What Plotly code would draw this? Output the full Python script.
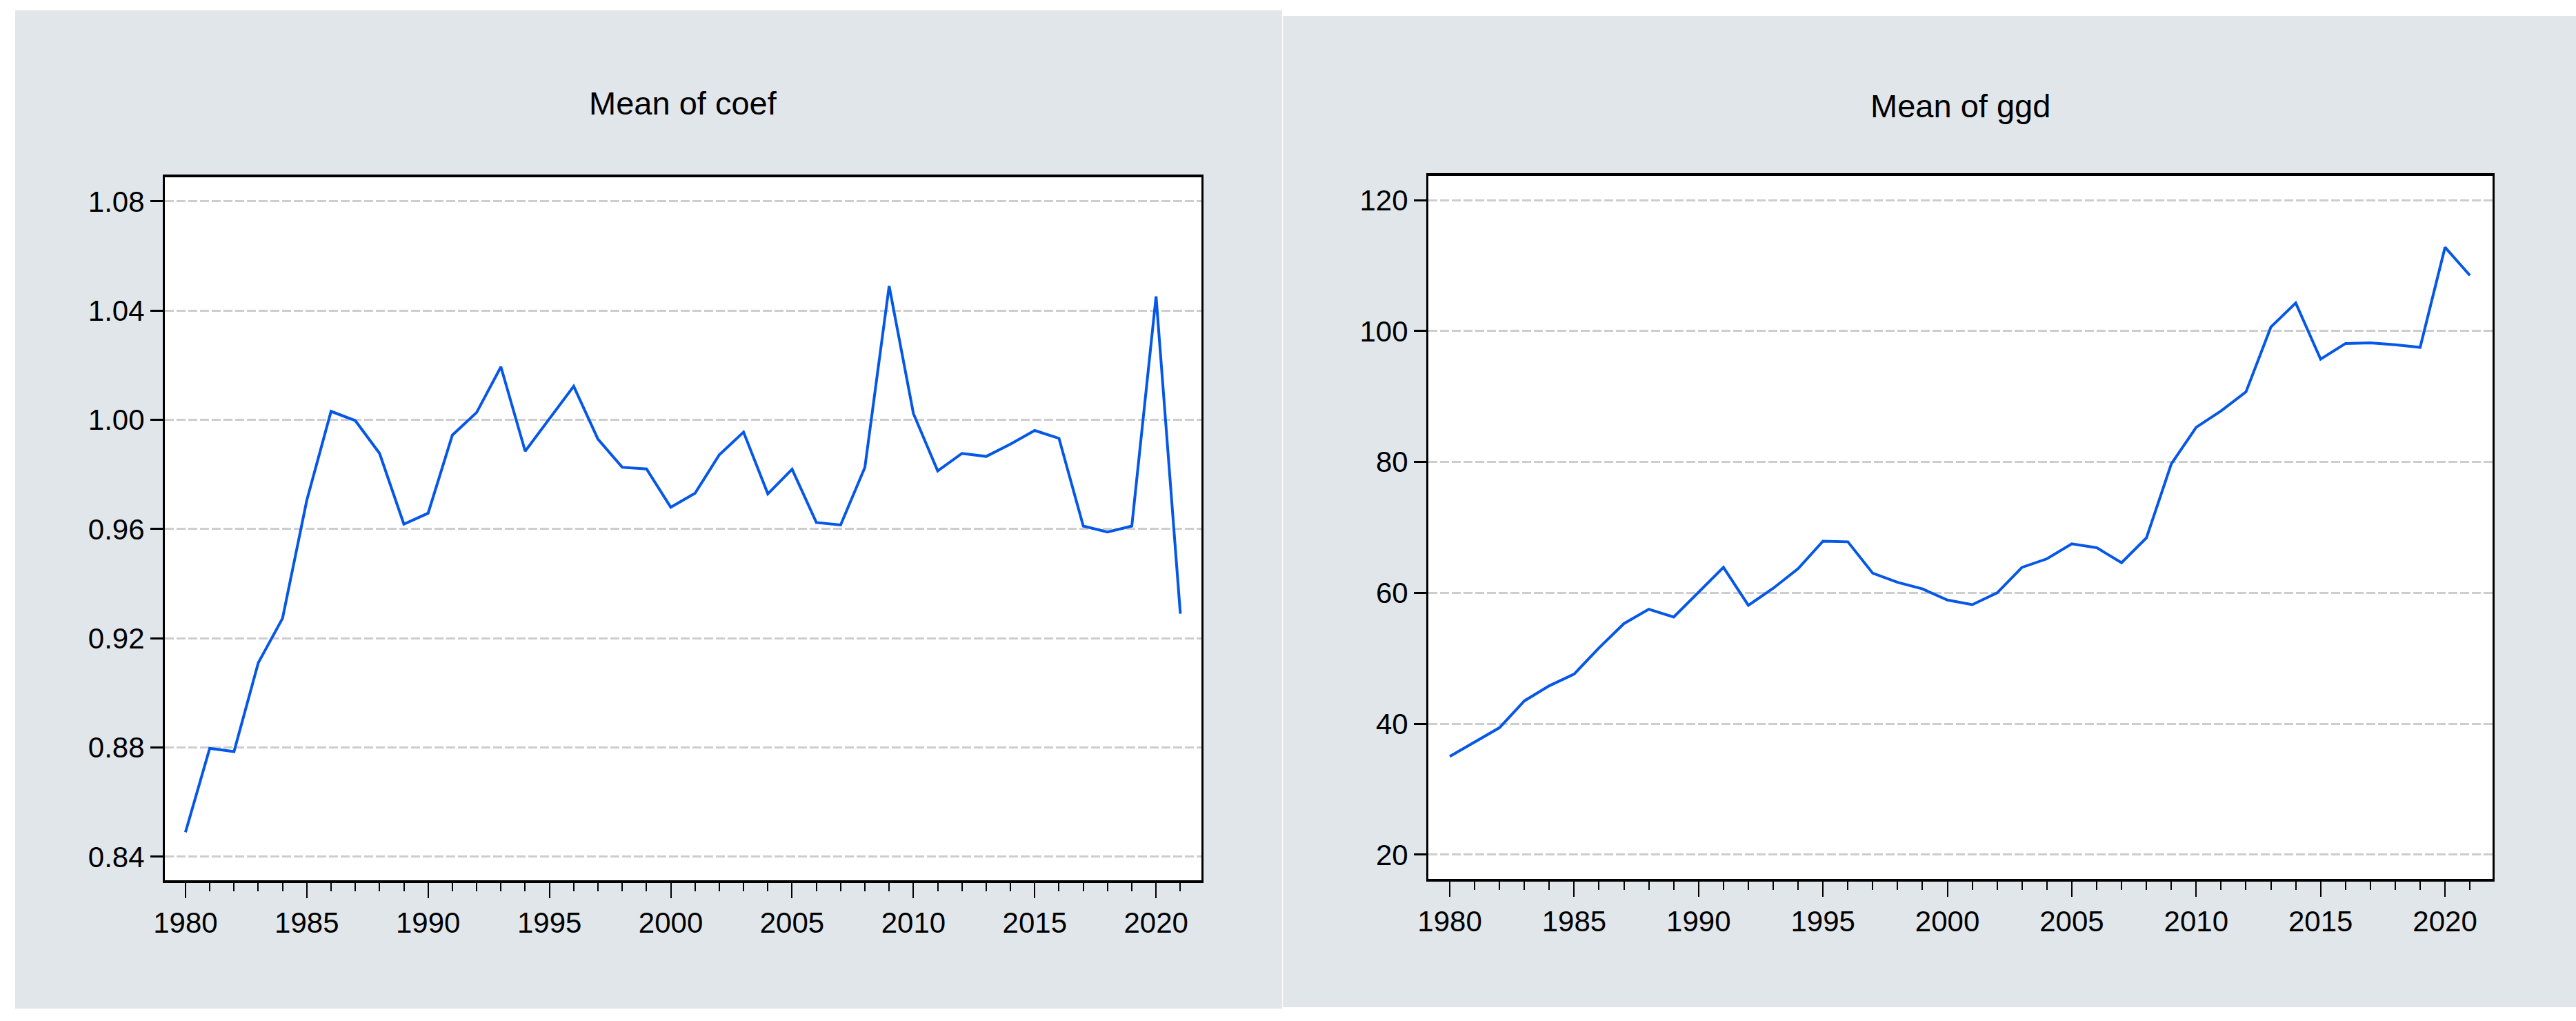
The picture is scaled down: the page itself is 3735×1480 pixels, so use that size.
import plotly.graph_objects as go

W, H = 3735, 1480

years = list(range(1980, 2022))

coef = [0.849, 0.8797, 0.8785, 0.911, 0.9273, 0.9705, 1.0031, 0.9997, 0.9877, 0.9618,
        0.9658, 0.9944, 1.0027, 1.0194, 0.9885, 1.0006, 1.0123, 0.9929, 0.9826, 0.982,
        0.968, 0.9731, 0.9872, 0.9955, 0.9729, 0.9819, 0.9624, 0.9615, 0.9826, 1.049,
        1.0023, 0.9813, 0.9877, 0.9866, 0.9911, 0.9961, 0.9932, 0.9611, 0.9589, 0.9611,
        1.0452, 0.929]

ggd = [35.0, 37.2, 39.4, 43.5, 45.8, 47.6, 51.6, 55.3, 57.5, 56.3,
       60.1, 63.9, 58.1, 60.7, 63.7, 67.9, 67.8, 63.0, 61.6, 60.6,
       58.9, 58.2, 60.0, 63.9, 65.2, 67.5, 66.9, 64.6, 68.4, 79.7,
       85.3, 87.8, 90.7, 100.6, 104.3, 95.7, 98.1, 98.2, 97.9, 97.5,
       112.8, 108.5]

titles = ["Mean of coef", "Mean of ggd"]
coef_ticks = [0.84, 0.88, 0.92, 0.96, 1.00, 1.04, 1.08]
ggd_ticks = [20, 40, 60, 80, 100, 120]
x_ticks = [1980, 1985, 1990, 1995, 2000, 2005, 2010, 2015, 2020]

LINE = "#0557e8"
PANEL = "#e1e6ea"
FONT = "Liberation Sans, Arial, sans-serif"


def px_x(p):
    return p / W


def px_y(p):
    return 1 - p / H


fig = go.Figure()
fig.add_trace(go.Scatter(x=years, y=coef, mode="lines", line=dict(color=LINE, width=4),
                         xaxis="x", yaxis="y", showlegend=False, hoverinfo="skip"))
fig.add_trace(go.Scatter(x=years, y=ggd, mode="lines", line=dict(color=LINE, width=4),
                         xaxis="x2", yaxis="y2", showlegend=False, hoverinfo="skip"))


def xaxis_style(domain, rng, anchor):
    return dict(domain=domain, range=rng, anchor=anchor, automargin=False,
                tickmode="array", tickvals=x_ticks, ticktext=[str(v) for v in x_ticks],
                ticks="outside", ticklen=22, tickwidth=2, tickcolor="black",
                minor=dict(ticks="outside", ticklen=12, tickwidth=2, tickcolor="black",
                           dtick=1, tick0=1980, showgrid=False),
                showline=True, linecolor="black", linewidth=4, mirror=True,
                showgrid=False, zeroline=False,
                tickfont=dict(family=FONT, size=42, color="black"))


def yaxis_style(domain, rng, anchor, vals, fmt):
    return dict(domain=domain, range=rng, anchor=anchor, automargin=False,
                tickmode="array", tickvals=vals, tickformat=fmt,
                ticks="outside", ticklen=18, tickwidth=3, tickcolor="black",
                showline=True, linecolor="black", linewidth=3, mirror=True,
                showgrid=True, gridcolor="#cdcdcd", gridwidth=2.5, griddash="13px,4px",
                zeroline=False,
                tickfont=dict(family=FONT, size=42, color="black"))


def white(x0, x1, y0, y1):
    return dict(type="rect", xref="paper", yref="paper", layer="below",
                x0=px_x(x0), x1=px_x(x1), y0=px_y(y1), y1=px_y(y0),
                fillcolor="white", line=dict(width=0))


fig.update_layout(
    template="none",
    width=W, height=H,
    margin=dict(l=0, r=0, t=0, b=0, pad=0, autoexpand=False),
    paper_bgcolor=PANEL, plot_bgcolor="white",
    font=dict(family=FONT, color="black"),
    showlegend=False,
    xaxis=xaxis_style([px_x(239), px_x(1742)], [1979.15, 2021.87], "y"),
    yaxis=yaxis_style([px_y(1276), px_y(257)], [0.8314, 1.0888], "x", coef_ticks, ".2f"),
    xaxis2=xaxis_style([px_x(2071), px_x(3614)], [1979.14, 2021.91], "y2"),
    yaxis2=yaxis_style([px_y(1274), px_y(255)], [16.3, 123.7], "x2", ggd_ticks, "d"),
    shapes=[
        white(0, 22, 0, H),            # left strip
        white(0, 1860, 0, 15),         # top of left panel
        white(1859, W, 0, 23),         # top of right panel
        white(0, 1860, 1462, H),       # bottom of left panel
        white(1859, W, 1460, H),       # bottom of right panel
        white(1859, 1860, 0, H),       # separator
    ],
    annotations=[
        dict(text=titles[0], xref="paper", yref="paper", x=px_x(990.5), y=px_y(150),
             xanchor="center", yanchor="middle", showarrow=False,
             font=dict(family=FONT, size=47, color="black")),
        dict(text=titles[1], xref="paper", yref="paper", x=px_x(2842.5), y=px_y(153),
             xanchor="center", yanchor="middle", showarrow=False,
             font=dict(family=FONT, size=47, color="black")),
    ],
)

fig.write_html(
    "out.html",
    config={"displayModeBar": False},
    post_script="document.body.style.margin='0';document.body.style.overflow='hidden';",
)
